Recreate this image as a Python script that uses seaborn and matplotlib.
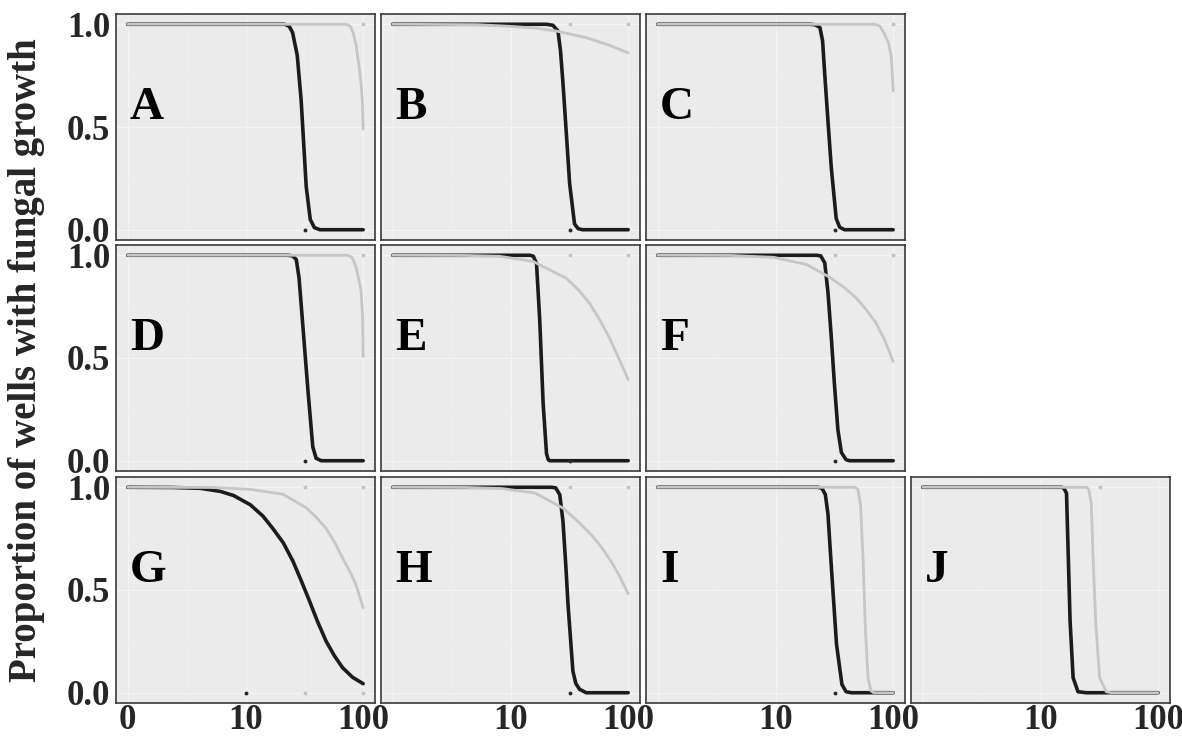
import numpy as np
import pandas as pd
import matplotlib
matplotlib.use('Agg')
import matplotlib.pyplot as plt
import seaborn as sb


# dose / proportion points (dark = black curve, light = grey curve)
A_dark_x = [0, 21.5, 23.5, 25.1, 27.5, 29.7, 32.8, 35.5, 38.5, 43, 100]
A_dark_y = [1, 1, 0.99, 0.96, 0.85, 0.63, 0.21, 0.05, 0.01, 0, 0]
A_light_x = [0, 72, 78, 82, 87, 92, 96, 98.5, 100]
A_light_y = [1, 1, 0.99, 0.96, 0.9, 0.80, 0.71, 0.62, 0.49]

B_dark_x = [0, 20.2, 22.9, 25.3, 26.6, 27.9, 29.8, 31.8, 35.0, 37.6, 41.1, 100]
B_dark_y = [1, 1, 0.995, 0.967, 0.87, 0.714, 0.47, 0.224, 0.028, 0.005, 0, 0]
B_light_x = [0, 5, 9.8, 15.8, 24.5, 44, 69, 100]
B_light_y = [1, 0.998, 0.99, 0.982, 0.967, 0.935, 0.898, 0.861]

C_dark_x = [0, 19.5, 21.6, 23.8, 25.1, 26.2, 27.9, 29.8, 32.8, 35.1, 38.6, 100]
C_dark_y = [1, 1, 0.998, 0.985, 0.92, 0.756, 0.53, 0.30, 0.054, 0.012, 0, 0]
C_light_x = [0, 70, 77.6, 84.7, 91.2, 96.6, 100]
C_light_y = [1, 1, 0.99, 0.95, 0.91, 0.84, 0.675]

D_dark_x = [0, 23, 25.1, 27, 28.5, 29.8, 33.9, 37.3, 39.8, 44, 100]
D_dark_y = [1, 1, 0.997, 0.979, 0.89, 0.751, 0.345, 0.068, 0.012, 0, 0]
D_light_x = [0, 73.8, 80.4, 86.7, 95.7, 98.9, 100]
D_light_y = [1, 1, 0.99, 0.946, 0.833, 0.70, 0.507]

E_dark_x = [0, 14.6, 15.6, 16.6, 17.7, 18.9, 20.2, 20.9, 21.5, 100]
E_dark_y = [1, 1, 0.995, 0.96, 0.68, 0.28, 0.035, 0.005, 0, 0]
E_light_x = [0, 4, 8, 15.5, 29.8, 38, 47, 57.5, 69, 83, 100]
E_light_y = [1, 0.999, 0.995, 0.97, 0.888, 0.83, 0.766, 0.685, 0.60, 0.50, 0.395]

F_dark_x = [0, 22.3, 24.2, 26.2, 27.9, 29.8, 31.6, 33.9, 36.3, 39.8, 42.7, 100]
F_dark_y = [1, 1, 0.997, 0.963, 0.82, 0.60, 0.38, 0.15, 0.04, 0.005, 0, 0]
F_light_x = [0, 4, 9.6, 18.3, 27.9, 38, 48.4, 59, 71.5, 85, 100]
F_light_y = [1, 0.999, 0.99, 0.955, 0.898, 0.845, 0.793, 0.735, 0.671, 0.585, 0.483]

G_dark_x = [0, 2, 3.9, 5.95, 7.8, 10.9, 14, 17, 20.9, 25.3, 30, 35, 40.7, 48.4, 56.9, 66.8, 81.3, 100]
G_dark_y = [1, 0.999, 0.995, 0.98, 0.96, 0.915, 0.86, 0.80, 0.73, 0.64, 0.54, 0.446, 0.35, 0.251, 0.18, 0.122, 0.075, 0.044]
G_light_x = [0, 5, 10.9, 20.8, 32.8, 39.8, 48.4, 57.5, 66.8, 79.4, 86.7, 100]
G_light_y = [1, 0.999, 0.99, 0.966, 0.90, 0.855, 0.80, 0.73, 0.656, 0.575, 0.527, 0.413]

H_dark_x = [0, 22.3, 24.2, 26.2, 27.9, 29.5, 30.8, 33.9, 35.9, 38.6, 44, 100]
H_dark_y = [1, 1, 0.997, 0.964, 0.835, 0.62, 0.43, 0.105, 0.045, 0.017, 0, 0]
H_light_x = [0, 4, 8.3, 16.1, 27.9, 38, 48.4, 59, 71.5, 85, 100]
H_light_y = [1, 0.999, 0.994, 0.972, 0.899, 0.83, 0.77, 0.71, 0.64, 0.565, 0.481]

I_dark_x = [0, 23, 24.8, 26.5, 27.9, 29.6, 33, 36.7, 39.8, 44.2, 100]
I_dark_y = [1, 1, 0.995, 0.965, 0.87, 0.64, 0.235, 0.04, 0.005, 0, 0]
I_light_x = [0, 47.4, 50.1, 52.8, 55.6, 58, 61.1, 64.6, 68.2, 100]
I_light_y = [1, 1, 0.99, 0.916, 0.64, 0.316, 0.073, 0.01, 0, 0]

J_dark_x = [0, 15.1, 15.8, 16.6, 17, 17.8, 18.9, 20.8, 24.5, 100]
J_dark_y = [1, 1, 0.995, 0.97, 0.758, 0.35, 0.073, 0.005, 0, 0]
J_light_x = [0, 24.5, 25.7, 27, 27.9, 29.4, 31.8, 36.2, 39.8, 100]
J_light_y = [1, 1, 0.99, 0.92, 0.677, 0.35, 0.073, 0.005, 0, 0]

# single observations still visible as small dots (dose, proportion)
A_dots_dark, A_dots_light = ([32], [0]), ([100], [1])
B_dots_dark, B_dots_light = ([32], [0]), ([32, 100], [1, 1])
C_dots_dark, C_dots_light = ([32], [0]), ([100], [1])
D_dots_dark, D_dots_light = ([32], [0]), ([100], [1])
E_dots_dark, E_dots_light = ([32], [0]), ([32, 100], [1, 1])
F_dots_dark, F_dots_light = ([32], [0]), ([32, 100], [1, 1])
G_dots_dark, G_dots_light = ([10], [0]), ([32, 100, 32, 100], [1, 1, 0, 0])
H_dots_dark, H_dots_light = ([32], [0]), ([32, 100], [1, 1])
I_dots_dark, I_dots_light = ([32], [0]), ([], [])
J_dots_dark, J_dots_light = ([], []), ([32], [1])

panel_names = ['A', 'B', 'C', 'D', 'E', 'F', 'G', 'H', 'I', 'J']
x_ticks = [0, 10, 100]
y_ticks = [0.0, 0.5, 1.0]
y_title = 'Proportion of wells with fungal growth'

curves = {
    'A': (A_dark_x, A_dark_y, A_light_x, A_light_y, A_dots_dark, A_dots_light),
    'B': (B_dark_x, B_dark_y, B_light_x, B_light_y, B_dots_dark, B_dots_light),
    'C': (C_dark_x, C_dark_y, C_light_x, C_light_y, C_dots_dark, C_dots_light),
    'D': (D_dark_x, D_dark_y, D_light_x, D_light_y, D_dots_dark, D_dots_light),
    'E': (E_dark_x, E_dark_y, E_light_x, E_light_y, E_dots_dark, E_dots_light),
    'F': (F_dark_x, F_dark_y, F_light_x, F_light_y, F_dots_dark, F_dots_light),
    'G': (G_dark_x, G_dark_y, G_light_x, G_light_y, G_dots_dark, G_dots_light),
    'H': (H_dark_x, H_dark_y, H_light_x, H_light_y, H_dots_dark, H_dots_light),
    'I': (I_dark_x, I_dark_y, I_light_x, I_light_y, I_dots_dark, I_dots_light),
    'J': (J_dark_x, J_dark_y, J_light_x, J_light_y, J_dots_dark, J_dots_light),
}

sb.set_style('darkgrid', {'axes.facecolor': '#EBEBEB', 'grid.color': '#F4F4F4',
                          'axes.edgecolor': '#3a3a3a'})
plt.rcParams['font.family'] = ['Liberation Serif', 'DejaVu Serif']

W, H = 1182, 739
fig = plt.figure(figsize=(W / 100, H / 100), dpi=100)
fig.patch.set_facecolor('white')

col_left = [116, 381, 646, 911]
row_top = [14, 245, 477]
pw, ph = 259, 226
layout = {'A': (0, 0), 'B': (0, 1), 'C': (0, 2),
          'D': (1, 0), 'E': (1, 1), 'F': (1, 2),
          'G': (2, 0), 'H': (2, 1), 'I': (2, 2), 'J': (2, 3)}

palette = {'dark': '#1c1c1c', 'light': '#c6c6c6'}
widths = {'dark': 2.6, 'light': 2.0}
tick_font = dict(family=['Liberation Serif', 'DejaVu Serif'], weight='bold', size=25)

for name in panel_names:
    r, c = layout[name]
    ax = fig.add_axes([col_left[c] / W, 1 - (row_top[r] + ph) / H, pw / W, ph / H])
    dx, dy, lx, ly, ddots, ldots = curves[name]
    df = pd.concat([
        pd.DataFrame({'dose': dx, 'prop': dy, 'group': 'dark'}),
        pd.DataFrame({'dose': lx, 'prop': ly, 'group': 'light'}),
    ], ignore_index=True)
    sb.lineplot(data=df, x='dose', y='prop', hue='group', size='group',
                hue_order=['dark', 'light'], palette=palette, sizes=widths,
                estimator=None, sort=False, legend=False, ax=ax)
    sb.scatterplot(x=ddots[0], y=ddots[1], color='#2a2a2a', s=8, linewidth=0, ax=ax, zorder=4)
    sb.scatterplot(x=ldots[0], y=ldots[1], color='#c2c2c2', s=8, linewidth=0, ax=ax, zorder=4)

    ax.set_xscale('asinh', linear_width=2)
    ax.set_xlim(-0.46, 126)
    ax.set_ylim(-0.05, 1.05)
    ax.set_xticks(x_ticks)
    ax.set_xticks([2.87, 31.7], minor=True)
    ax.set_yticks(y_ticks)
    ax.set_yticks([0.25, 0.75], minor=True)
    ax.grid(which='major', color='#F4F4F4', lw=0.9)
    ax.grid(which='minor', color='#F0F0F0', lw=0.5)
    ax.tick_params(which='both', length=0)
    ax.tick_params(axis='y', pad=4)
    ax.tick_params(axis='x', pad=1)
    ax.set_xlabel('')
    ax.set_ylabel('')
    for s in ax.spines.values():
        s.set_visible(True)
        s.set_color('#3a3a3a')
        s.set_linewidth(1.2)

    if c == 0:
        ax.set_yticklabels([f'{v:.1f}' for v in y_ticks], fontdict=tick_font)
    else:
        ax.set_yticklabels([])
    if r == 2:
        labels = [str(v) for v in x_ticks]
        if c > 0:
            labels[0] = ''
        ax.set_xticklabels(labels, fontdict=tick_font)
    else:
        ax.set_xticklabels([])
    ax.set_xticklabels([], minor=True)
    ax.set_yticklabels([], minor=True)

    ax.text(0.054, 0.585, name, transform=ax.transAxes, fontsize=34,
            fontweight='bold', va='center', ha='left', color='black')

fig.text(0.022, 0.513, y_title, rotation=90, ha='center', va='center',
         fontsize=28, fontweight='bold')

fig.savefig('out.png', dpi=100)
